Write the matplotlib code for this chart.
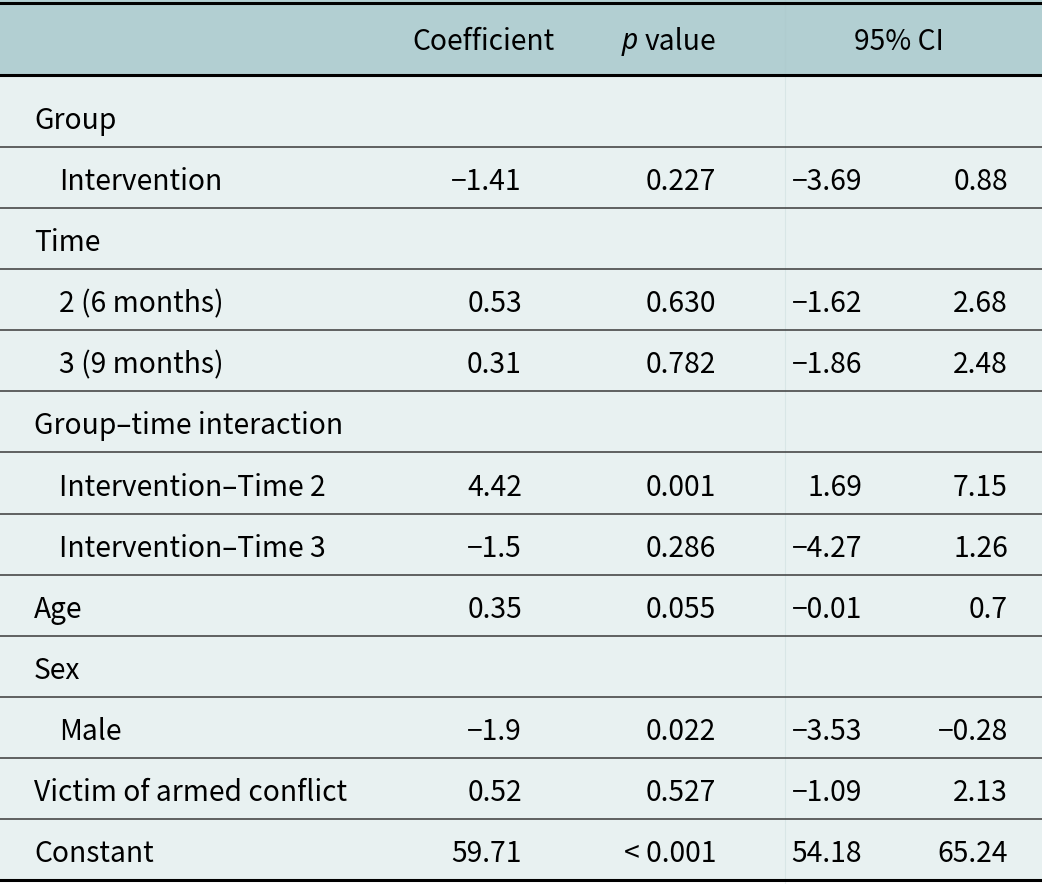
import matplotlib
matplotlib.use("Agg")
import matplotlib.pyplot as plt

plt.rcParams["font.family"] = ["Noto Sans CJK SC", "DejaVu Sans"]

# Table contents
labels = [
    "Group", "Intervention", "Time", "2 (6 months)", "3 (9 months)",
    "Group\u2013time interaction", "Intervention\u2013Time 2",
    "Intervention\u2013Time 3", "Age", "Sex", "Male",
    "Victim of armed conflict", "Constant",
]
indented = [False, True, False, True, True, False, True, True,
            False, False, True, False, False]
coef = ["", "\u22121.41", "", "0.53", "0.31", "", "4.42", "\u22121.5",
        "0.35", "", "\u22121.9", "0.52", "59.71"]
pval = ["", "0.227", "", "0.630", "0.782", "", "0.001", "0.286",
        "0.055", "", "0.022", "0.527", "< 0.001"]
ci_low = ["", "\u22123.69", "", "\u22121.62", "\u22121.86", "", "1.69",
          "\u22124.27", "\u22120.01", "", "\u22123.53", "\u22121.09", "54.18"]
ci_high = ["", "0.88", "", "2.68", "2.48", "", "7.15", "1.26", "0.7",
           "", "\u22120.28", "2.13", "65.24"]

W, H = 1042, 884
fig = plt.figure(figsize=(W / 100, H / 100), dpi=100)
ax = fig.add_axes([0, 0, 1, 1])
ax.set_xlim(0, W)
ax.set_ylim(H, 0)
ax.axis("off")

header_bg = "#b2cfd2"
body_bg = "#e8f1f1"
fs = 20.3

head_top, head_bot = 4, 75
first_bot = 147
row_h = (880 - first_bot) / (len(labels) - 1)
bottoms = [first_bot + i * row_h for i in range(len(labels))]

ax.add_patch(plt.Rectangle((0, 0), W, head_bot, color=header_bg, lw=0))
ax.add_patch(plt.Rectangle((0, head_bot), W, H - head_bot, color=body_bg, lw=0))
ax.plot([785, 785], [0, H], color="#a9c6c9", lw=0.8, alpha=0.25)
ax.add_patch(plt.Rectangle((0, 880), W, H - 880, color="white", lw=0))

# header
hy = 42
ax.text(484, hy, "Coefficient", ha="center", va="center", fontsize=fs)
ax.text(622, hy, "p", ha="left", va="center", fontsize=fs,
        family="Noto Sans", style="italic")
ax.text(716, hy, "value", ha="right", va="center", fontsize=fs)
ax.text(899, hy, "95% CI", ha="center", va="center", fontsize=fs)

# rules
ax.plot([0, W], [3, 3], color="black", lw=2.2)
ax.plot([0, W], [head_bot, head_bot], color="black", lw=2.2)
for b in bottoms[:-1]:
    ax.plot([0, W], [b, b], color="#3a3a3a", lw=1.1)
ax.plot([0, W], [880, 880], color="black", lw=2.2)

cols = [(522, coef), (716, pval), (862, ci_low), (1008, ci_high)]
for i, lab in enumerate(labels):
    y = bottoms[i] - 26
    x = 59 if indented[i] else 34
    ax.text(x, y, lab, ha="left", va="center", fontsize=fs)
    for cx, vals in cols:
        if vals[i]:
            ax.text(cx, y, vals[i], ha="right", va="center", fontsize=fs)

fig.savefig("out.png", dpi=100)
